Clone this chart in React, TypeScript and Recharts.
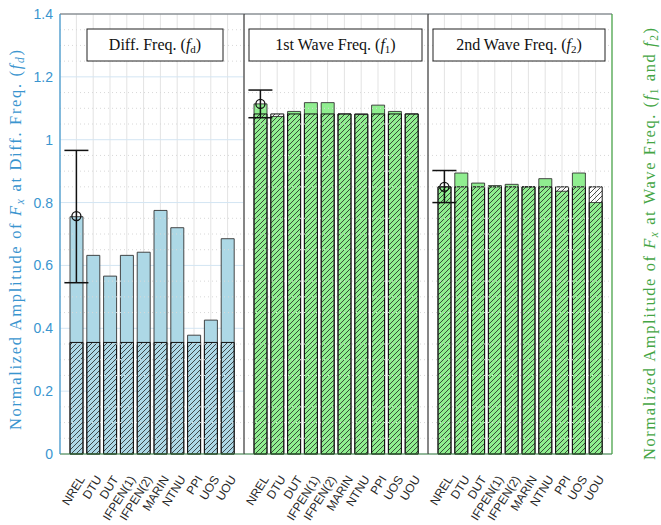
import React from 'react';
import { ComposedChart, Bar, Line, XAxis, YAxis, CartesianGrid, ReferenceLine, ErrorBar } from 'recharts';

// participants, same order in all three panels
const labels = ['NREL', 'DTU', 'DUT', 'IFPEN(1)', 'IFPEN(2)', 'MARIN', 'NTNU', 'PPI', 'UOS', 'UOU'];

// difference frequency (left axis)
const diffAmplitude = [0.755, 0.632, 0.566, 0.632, 0.642, 0.775, 0.72, 0.378, 0.426, 0.685];
const diffReference = [0.355, 0.355, 0.355, 0.355, 0.355, 0.355, 0.355, 0.355, 0.355, 0.355];
const diffNrel = [0.757, 0.545, 0.966]; // mean, low, high

// 1st wave frequency (right axis)
const wave1Amplitude = [0.557, 0.537, 0.545, 0.559, 0.559, 0.541, 0.54, 0.555, 0.545, 0.541];
const wave1Reference = [0.541, 0.541, 0.541, 0.541, 0.541, 0.541, 0.541, 0.541, 0.541, 0.541];
const wave1Nrel = [0.557, 0.535, 0.579];

// 2nd wave frequency (right axis)
const wave2Amplitude = [0.425, 0.447, 0.431, 0.427, 0.429, 0.425, 0.438, 0.418, 0.447, 0.4];
const wave2Reference = [0.425, 0.425, 0.425, 0.425, 0.425, 0.425, 0.425, 0.425, 0.425, 0.425];
const wave2Nrel = [0.425, 0.4, 0.451];

const leftTicks = [0, 0.2, 0.4, 0.6, 0.8, 1, 1.2, 1.4];
const rightTicks = [0, 0.1, 0.2, 0.3, 0.4, 0.5, 0.6, 0.7];
const leftMinor = [0.05, 0.1, 0.15, 0.25, 0.3, 0.35, 0.45, 0.5, 0.55, 0.65, 0.7, 0.75, 0.85, 0.9, 0.95, 1.05, 1.1, 1.15, 1.25, 1.3, 1.35];
const rightMinor = [0.025, 0.05, 0.075, 0.125, 0.15, 0.175, 0.225, 0.25, 0.275, 0.325, 0.35, 0.375, 0.425, 0.45, 0.475, 0.525, 0.55, 0.575, 0.625, 0.65, 0.675];

const BLUE = '#3a95cf';
const GREEN = '#44a544';
const H = 525;
const SERIF = '"Liberation Serif", "DejaVu Serif", serif';
const SANS = '"Liberation Sans", Arial, sans-serif';

function build(amp: number[], base: number[], nrel: number[]) {
  return labels.map((name, i) => ({
    name,
    amp: amp[i],
    base: base[i],
    mean: i === 0 ? nrel[0] : null,
    err: i === 0 ? [nrel[0] - nrel[1], nrel[2] - nrel[0]] : null,
  }));
}

const RotTick = (props: any) => {
  const { x, y, payload } = props;
  const px = x + 9;
  const py = y + 25;
  return (
    <text x={px} y={py} transform={`rotate(-58 ${px} ${py})`} textAnchor="end" fontFamily={SANS} fontSize={12} fill="#2a2a2a">
      {payload.value}
    </text>
  );
};

const nrelDot = (p: any) => {
  if (p.value == null || p.cy == null) return <g key={p.index} />;
  return <circle key={p.index} cx={p.cx} cy={p.cy} r={4.5} fill="none" stroke="#111" strokeWidth={1.3} />;
};

interface PanelProps {
  id: string;
  data: any[];
  left: number;
  width: number;
  domain: number[];
  ticks: number[];
  minor: number[];
  fill: string;
  side: 'left' | 'middle' | 'right';
}

function Panel({ id, data, left, width, domain, ticks, minor, fill, side }: PanelProps) {
  return (
    <div style={{ position: 'absolute', left, top: 0 }}>
      <ComposedChart width={width} height={H} data={data} margin={{ top: 14, right: 0, bottom: 0, left: 0 }}>
        <defs>
          <pattern id={`hatch-${id}`} patternUnits="userSpaceOnUse" width={5} height={5}>
            <path d="M0,5 L5,0 M-1,1 L1,-1 M4,6 L6,4" stroke="#222" strokeWidth={0.8} />
          </pattern>
        </defs>
        <XAxis xAxisId="b" dataKey="name" height={71} padding={{ left: 8, right: 8 }} interval={0}
          tick={<RotTick />} tickLine={false} tickSize={0} tickMargin={0} axisLine={{ stroke: '#3b7d3b', strokeWidth: 1.2 }} />
        <XAxis xAxisId="t" dataKey="name" orientation="top" mirror padding={{ left: 8, right: 8 }} interval={0}
          tick={false} tickSize={4} tickLine={{ stroke: '#222' }} axisLine={{ stroke: '#666' }} />

        {side === 'left' && (
          <YAxis yAxisId="v" domain={domain} ticks={ticks} width={60} tickLine={false} tickSize={4} tickMargin={3}
            axisLine={{ stroke: BLUE, strokeWidth: 1.2 }} tick={{ fill: BLUE, fontFamily: SANS, fontSize: 14 }} />
        )}
        {side === 'left' && (
          <YAxis yAxisId="m" domain={domain} ticks={ticks} mirror tick={false} tickSize={5} tickLine={{ stroke: BLUE }} axisLine={false} />
        )}
        {side !== 'left' && (
          <YAxis yAxisId="v" domain={domain} ticks={ticks} mirror tick={false} tickLine={false} axisLine={{ stroke: '#222' }} />
        )}
        {side === 'right' && (
          <YAxis yAxisId="r" orientation="right" domain={domain} ticks={ticks} width={49} tickLine={false} tickSize={0} tickMargin={4}
            axisLine={{ stroke: GREEN, strokeWidth: 1.2 }} tick={{ fill: GREEN, fontFamily: SANS, fontSize: 14, textAnchor: 'start' }} />
        )}
        {side === 'right' && (
          <YAxis yAxisId="rm" orientation="right" domain={domain} ticks={ticks} mirror tick={false} tickSize={5} tickLine={{ stroke: GREEN }} axisLine={false} />
        )}

        <CartesianGrid xAxisId="b" yAxisId="v" horizontal={false} stroke="#e3e3e3" />
        <CartesianGrid xAxisId="b" yAxisId="v" vertical={false} stroke="#d3e5f3" />
        {minor.map((v) => (
          <ReferenceLine key={v} xAxisId="b" yAxisId="v" y={v} stroke="#d8d8d8" strokeDasharray="1 3" />
        ))}

        <Bar xAxisId="b" yAxisId="v" dataKey="amp" fill={fill} stroke="#333" strokeWidth={0.9} barSize={13} isAnimationActive={false} />
        <Bar xAxisId="t" yAxisId="v" dataKey="base" fill={`url(#hatch-${id})`} stroke="#111" strokeWidth={1} barSize={13} isAnimationActive={false} />
        <Line xAxisId="b" yAxisId="v" dataKey="mean" stroke="none" dot={nrelDot} activeDot={false} isAnimationActive={false}>
          <ErrorBar dataKey="err" width={12} stroke="#111" strokeWidth={1.5} />
        </Line>
      </ComposedChart>
    </div>
  );
}

function TitleBox({ x, y, w, text, sub }: { x: number; y: number; w: number; text: string; sub: string }) {
  return (
    <g>
      <rect x={x} y={y} width={w} height={32} fill="#fff" stroke="#222" strokeWidth={1} />
      <text x={x + w / 2} y={y + 21} textAnchor="middle" fontFamily={SERIF} fontSize={16} fill="#111">
        {text} (<tspan fontStyle="italic">f</tspan>
        <tspan fontSize={11} dy={3}>{sub}</tspan>
        <tspan dy={-3}>)</tspan>
      </text>
    </g>
  );
}

export default function App() {
  const diffData = build(diffAmplitude, diffReference, diffNrel);
  const wave1Data = build(wave1Amplitude, wave1Reference, wave1Nrel);
  const wave2Data = build(wave2Amplitude, wave2Reference, wave2Nrel);

  return (
    <div style={{ position: 'absolute', left: 0, top: 0, width: 661, height: H, background: '#fff' }}>
      <style>{'svg.recharts-surface { overflow: visible; }'}</style>
      <Panel id="d" data={diffData} left={0} width={244} domain={[0, 1.4]} ticks={leftTicks} minor={leftMinor} fill="#add8e6" side="left" />
      <Panel id="w1" data={wave1Data} left={244} width={184} domain={[0, 0.7]} ticks={rightTicks} minor={rightMinor} fill="#90ee90" side="middle" />
      <Panel id="w2" data={wave2Data} left={428} width={233} domain={[0, 0.7]} ticks={rightTicks} minor={rightMinor} fill="#90ee90" side="right" />

      <svg width={661} height={H} style={{ position: 'absolute', left: 0, top: 0, pointerEvents: 'none' }}>
        <TitleBox x={87} y={29} w={136} text="Diff. Freq." sub="d" />
        <TitleBox x={249} y={29} w={173} text="1st Wave Freq." sub="1" />
        <TitleBox x={433} y={29} w={172} text="2nd Wave Freq." sub="2" />

        <text transform="translate(21 240) rotate(-90)" textAnchor="middle" fontFamily={SERIF} fontSize={16.5} fill={BLUE}
          textLength={380} lengthAdjust="spacing">
          Normalized Amplitude of <tspan fontStyle="italic">F</tspan>
          <tspan fontSize={11.5} fontStyle="italic" dy={3}>x</tspan>
          <tspan dy={-3}> at Diff. Freq. (</tspan>
          <tspan fontStyle="italic">f</tspan>
          <tspan fontSize={11.5} fontStyle="italic" dy={3}>d</tspan>
          <tspan dy={-3}>)</tspan>
        </text>
        <text transform="translate(655 244) rotate(-90)" textAnchor="middle" fontFamily={SERIF} fontSize={16.5} fill={GREEN}
          textLength={432} lengthAdjust="spacing">
          Normalized Amplitude of <tspan fontStyle="italic">F</tspan>
          <tspan fontSize={11.5} fontStyle="italic" dy={3}>x</tspan>
          <tspan dy={-3}> at Wave Freq. (</tspan>
          <tspan fontStyle="italic">f</tspan>
          <tspan fontSize={11.5} dy={3}>1</tspan>
          <tspan dy={-3}> and </tspan>
          <tspan fontStyle="italic">f</tspan>
          <tspan fontSize={11.5} dy={3}>2</tspan>
          <tspan dy={-3}>)</tspan>
        </text>
      </svg>
    </div>
  );
}
